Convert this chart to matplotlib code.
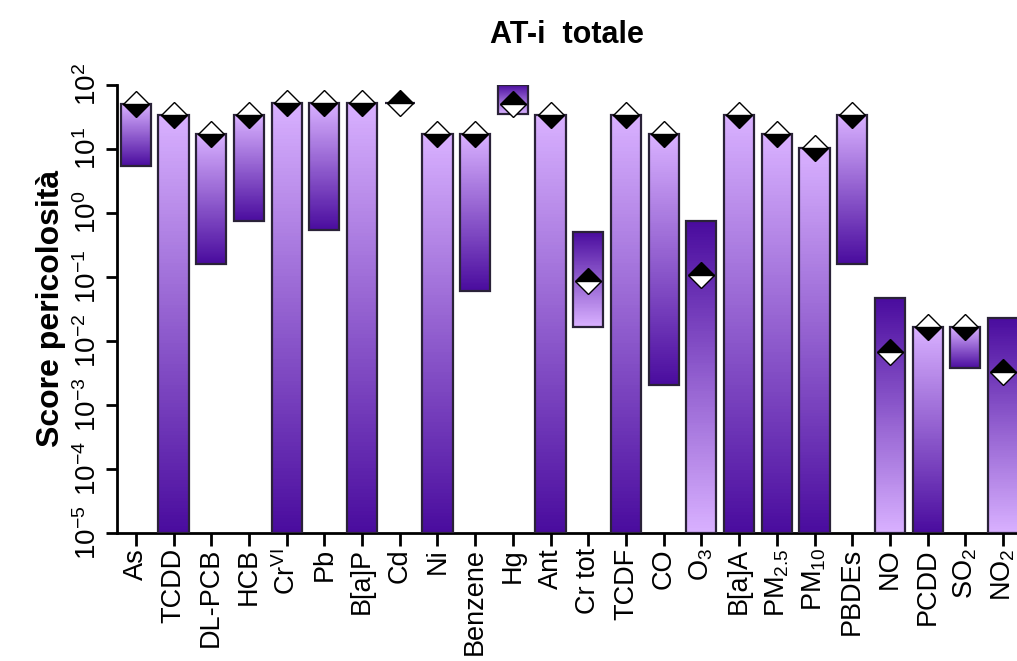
import numpy as np
import matplotlib
matplotlib.use('agg')
from matplotlib import pyplot as plt
from matplotlib.colors import LinearSegmentedColormap

plt.rcParams['font.family'] = ['Liberation Sans', 'DejaVu Sans']
plt.rcParams['mathtext.fontset'] = 'custom'
plt.rcParams['mathtext.rm'] = 'Liberation Sans'
plt.rcParams['mathtext.it'] = 'Liberation Sans:italic'

# pollutant labels (mathtext for sub/superscripts)
pollutants = ["As", "TCDD", "DL-PCB", "HCB", r"Cr$^{\rm VI}$", "Pb", "B[a]P", "Cd",
              "Ni", "Benzene", "Hg", "Ant", "Cr tot", "TCDF", "CO", r"O$_3$",
              "B[a]A", r"PM$_{2.5}$", r"PM$_{10}$", "PBDEs", "NO", "PCDD",
              r"SO$_2$", r"NO$_2$"]

# score range per pollutant (upper / lower end) and the point estimate
score_high = [50, 33, 16.7, 33, 52, 52, 52, 52, 16.7, 16.7, 100, 33,
              0.5, 33, 16.7, 0.73, 33, 16.7, 10.4, 33, 0.046, 0.0163,
              0.0163, 0.023]
score_low = [5.3, 1e-5, 0.16, 0.73, 1e-5, 0.53, 1e-5, 52, 1e-5, 0.06, 35, 1e-5,
             0.0166, 1e-5, 0.002, 1e-5, 1e-5, 1e-5, 1e-5, 0.16, 1e-5, 1e-5,
             0.0037, 1e-5]
score_point = [50, 33, 16.7, 33, 52, 52, 52, 52, 16.7, 16.7, 50, 33,
               0.085, 33, 16.7, 0.105, 33, 16.7, 10.4, 33, 0.0066, 0.0163,
               0.0163, 0.0033]
# "down": light on top fading to dark; "up": dark on top
trend = ["down", "down", "down", "down", "down", "down", "down", "up",
         "down", "down", "up", "down", "up", "down", "down", "up",
         "down", "down", "down", "down", "up", "down", "down", "up"]

light = "#d8b0ff"
dark = "#4a0c9e"
edge = "#2a2238"

fig = plt.figure(figsize=(10.17, 6.61), dpi=100)
ax = fig.add_axes([0.115, 0.194, 0.885, 0.678])
ax.set_yscale('log')

width = 0.8
cmap = LinearSegmentedColormap.from_list("purp", [dark, light])
x = np.arange(len(pollutants))

for i in x:
    lo, hi = score_low[i], score_high[i]
    if hi > lo:
        yy = np.geomspace(lo, hi, 120)
        t = np.linspace(0, 1, 119)
        if trend[i] == "up":
            t = t[::-1]
        ax.pcolormesh([i - width / 2, i + width / 2], yy, t[:, None],
                      cmap=cmap, vmin=0, vmax=1, shading='flat', zorder=2)
    ax.bar(i, hi - lo, bottom=lo, width=width, fill=False,
           edgecolor=edge, linewidth=1.6, zorder=3)
    fs = 'bottom' if trend[i] == "down" else 'top'
    ax.plot(i, score_point[i], marker='D', ms=13.5, fillstyle=fs,
            markerfacecolor='black', markerfacecoloralt='white',
            markeredgecolor='black', markeredgewidth=1.0, zorder=4,
            clip_on=False)

ax.set_ylim(1e-5, 1e2)
ax.set_xlim(-0.5, 23.37)
ax.set_xticks(x)
ax.set_xticklabels(pollutants, rotation=90, fontsize=19.5)
ax.set_yticks([10.0 ** k for k in range(-5, 3)])
ax.minorticks_off()
for lbl in ax.get_yticklabels():
    lbl.set_rotation(90)
    lbl.set_verticalalignment('center')
ax.tick_params(axis='y', labelsize=20, length=8, width=2, pad=3)
ax.tick_params(axis='x', length=9, width=2, pad=2)

for s in ['top', 'right']:
    ax.spines[s].set_visible(False)
for s in ['left', 'bottom']:
    ax.spines[s].set_linewidth(2)

ax.set_ylabel("Score pericolosità", fontsize=23, fontweight='bold', labelpad=6)
ax.set_title("AT-i  totale", fontsize=22, fontweight='bold', pad=30)

fig.savefig("out.png", dpi=100)
